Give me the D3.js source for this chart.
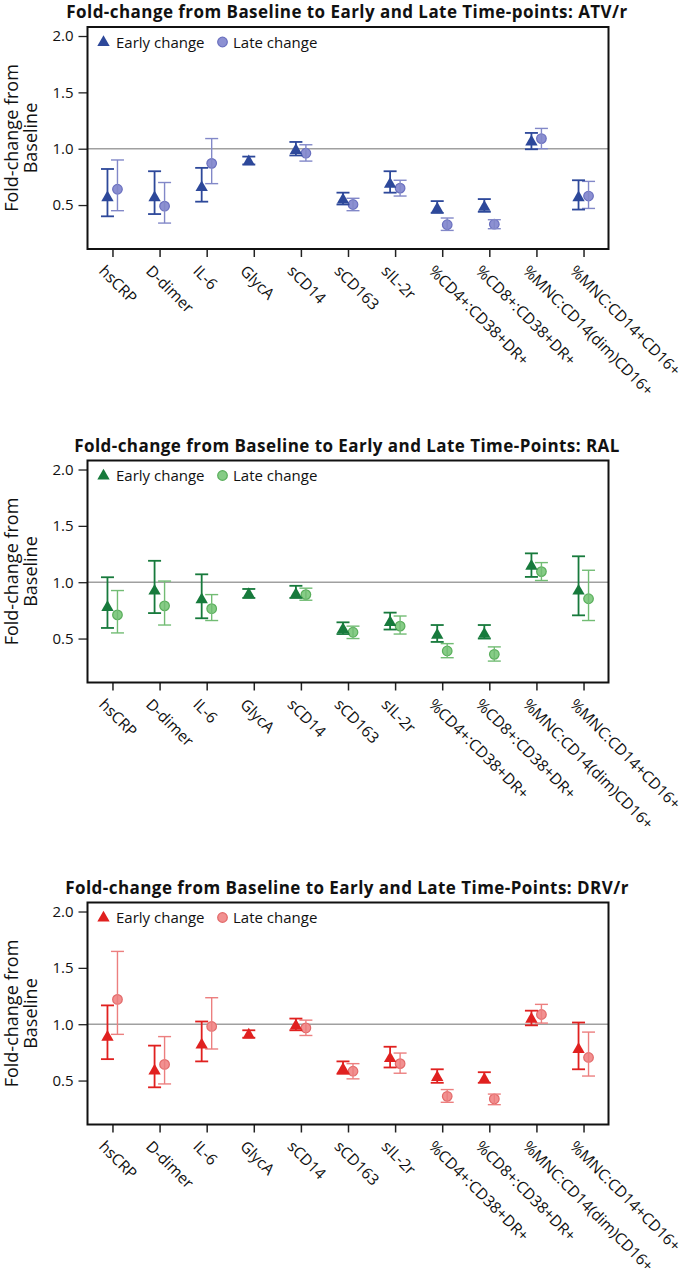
<!DOCTYPE html>
<html><head><meta charset="utf-8">
<script src="https://cdn.jsdelivr.net/npm/d3@7"></script>
<style>body{margin:0;background:#fff}svg{display:block}</style>
</head><body>
<svg id="chart" width="691" height="1280"></svg>
<script>
// ---- data ----
const categories = ["hsCRP","D-dimer","IL-6","GlycA","sCD14","sCD163","sIL-2r",
  "%CD4+:CD38+DR+","%CD8+:CD38+DR+","%MNC:CD14(dim)CD16+","%MNC:CD14+CD16+"];
const yTicks = [0.5, 1.0, 1.5, 2.0];
const titles = [
  "Fold-change from Baseline to Early and Late Time-points: ATV/r",
  "Fold-change from Baseline to Early and Late Time-Points: RAL",
  "Fold-change from Baseline to Early and Late Time-Points: DRV/r"];
const seriesNames = ["Early change", "Late change"];
// [estimate, lower, upper]
const atvEarly = [[0.57,0.40,0.82],[0.57,0.42,0.80],[0.66,0.53,0.83],[0.89,0.86,0.93],[0.99,0.94,1.06],
  [0.55,0.505,0.61],[0.69,0.61,0.80],[0.47,0.43,0.535],[0.485,0.44,0.553],[1.065,0.995,1.14],[0.57,0.46,0.72]];
const atvLate = [[0.64,0.45,0.90],[0.49,0.34,0.70],[0.87,0.69,1.09],null,[0.96,0.89,1.035],
  [0.505,0.45,0.56],[0.65,0.58,0.72],[0.325,0.275,0.385],[0.33,0.29,0.37],[1.09,1.0,1.18],[0.58,0.47,0.71]];
const ralEarly = [[0.78,0.594,1.044],[0.926,0.726,1.19],[0.85,0.68,1.07],[0.897,0.86,0.94],[0.897,0.86,0.968],
  [0.585,0.54,0.644],[0.647,0.58,0.73],[0.535,0.47,0.62],[0.544,0.50,0.62],[1.147,1.047,1.256],[0.926,0.706,1.23]];
const ralLate = [[0.71,0.55,0.926],[0.79,0.62,1.01],[0.765,0.66,0.89],null,[0.89,0.84,0.947],
  [0.556,0.50,0.61],[0.61,0.54,0.70],[0.39,0.33,0.455],[0.36,0.30,0.426],[1.094,1.015,1.174],[0.853,0.66,1.106]];
const drvEarly = [[0.89,0.69,1.167],[0.59,0.44,0.81],[0.82,0.67,1.024],[0.91,0.88,0.946],[0.99,0.946,1.05],
  [0.604,0.56,0.67],[0.70,0.616,0.80],[0.533,0.48,0.60],[0.515,0.48,0.574],[1.05,0.99,1.12],[0.78,0.60,1.015]];
const drvLate = [[1.22,0.91,1.646],[0.643,0.47,0.89],[0.98,0.78,1.235],null,[0.967,0.90,1.036],
  [0.583,0.515,0.65],[0.65,0.565,0.744],[0.36,0.307,0.42],[0.337,0.286,0.38],[1.086,1.01,1.176],[0.705,0.54,0.93]];

// ---- styles / layout ----
const palettes = [
  {early:"#2d489a", lateFill:"#8c90d2", lateStroke:"#6a70bf", lateBar:"#8288c8"},
  {early:"#177a3c", lateFill:"#86cc86", lateStroke:"#5aae5c", lateBar:"#72bc74"},
  {early:"#e0201f", lateFill:"#f29090", lateStroke:"#e26a6a", lateBar:"#ec7f7f"}];
const dataSets = [[atvEarly, atvLate],[ralEarly, ralLate],[drvEarly, drvLate]];
const tops = [27, 460.5, 902.5];
const left = 87.5, right = 608.5, plotH = 222;
const font = "'Open Sans', 'DejaVu Sans', sans-serif";

const svg = d3.select("#chart");
const x = d3.scalePoint().domain(categories).range([left, right]).padding(0.53);
const y = d3.scaleLinear().domain([0.11, 2.08]).range([plotH, 0]);
const tri = d3.symbol().type(d3.symbolTriangle).size(66);

dataSets.forEach((ds, pi) => {
  const pal = palettes[pi];
  const g = svg.append("g").attr("transform", `translate(0,${tops[pi]})`);

  // title
  g.append("text").attr("x", (left+right)/2 - 1).attr("y", -9)
    .attr("text-anchor","middle").attr("font-family", font).attr("font-weight","bold")
    .attr("font-size", 17).attr("letter-spacing", 0.45).attr("fill","#111").text(titles[pi]);

  // reference line
  g.append("line").attr("x1", left).attr("x2", right).attr("y1", y(1)).attr("y2", y(1))
    .attr("stroke","#a0a0a0").attr("stroke-width",1.5);

  // y axis
  const ya = g.append("g").attr("transform", `translate(${left},0)`)
    .call(d3.axisLeft(y).tickValues(yTicks).tickFormat(d3.format(".1f")).tickSize(9).tickPadding(5));
  ya.select(".domain").remove();
  ya.selectAll(".tick line").attr("stroke","#222").attr("stroke-width",1.3);
  ya.selectAll(".tick text").attr("font-family", font).attr("font-size", 15).attr("fill","#111");

  // x axis
  const xa = g.append("g").attr("transform", `translate(0,${plotH})`)
    .call(d3.axisBottom(x).tickSize(8).tickFormat(d => d));
  xa.select(".domain").remove();
  xa.selectAll(".tick line").attr("stroke","#222").attr("stroke-width",1.5);
  xa.selectAll(".tick text").attr("font-family", font).attr("font-size", 15.6).attr("fill","#111")
    .attr("text-anchor","start").attr("x",0).attr("y",0).attr("dy",0)
    .attr("transform","translate(-15,23) rotate(45)");

  // y-axis title
  const yl = g.append("text").attr("transform", `translate(0,${plotH/2}) rotate(-90)`)
    .attr("text-anchor","middle").attr("font-family", font).attr("font-size", 18).attr("fill","#111");
  yl.append("tspan").attr("x",0).attr("y",18).text("Fold-change from");
  yl.append("tspan").attr("x",0).attr("y",37).text("Baseline");

  const late = ds[1].map((d,i)=>d?{cat:categories[i],v:d[0],lo:d[1],hi:d[2]}:null).filter(Boolean);
  const early = ds[0].map((d,i)=>d?{cat:categories[i],v:d[0],lo:d[1],hi:d[2]}:null).filter(Boolean);

  // late series (circles + error bars)
  const lg = g.append("g");
  late.forEach(d => {
    const cx = x(d.cat) + 5;
    lg.append("circle").attr("cx",cx).attr("cy",y(d.v)).attr("r",4.8)
      .attr("fill",pal.lateFill).attr("stroke",pal.lateStroke).attr("stroke-width",1.2);
    lg.append("line").attr("x1",cx).attr("x2",cx).attr("y1",y(d.lo)).attr("y2",y(d.hi))
      .attr("stroke",pal.lateBar).attr("stroke-width",1.4);
    [d.lo,d.hi].forEach(v => lg.append("line").attr("x1",cx-6.5).attr("x2",cx+6.5)
      .attr("y1",y(v)).attr("y2",y(v)).attr("stroke",pal.lateBar).attr("stroke-width",1.4));
  });

  // early series (error bars + triangles)
  const eg = g.append("g");
  early.forEach(d => {
    const cx = x(d.cat) - 5;
    eg.append("line").attr("x1",cx).attr("x2",cx).attr("y1",y(d.lo)).attr("y2",y(d.hi))
      .attr("stroke",pal.early).attr("stroke-width",1.8);
    [d.lo,d.hi].forEach(v => eg.append("line").attr("x1",cx-6.5).attr("x2",cx+6.5)
      .attr("y1",y(v)).attr("y2",y(v)).attr("stroke",pal.early).attr("stroke-width",1.8));
    eg.append("path").attr("d",tri).attr("transform",`translate(${cx},${y(d.v)+0.5})`)
      .attr("fill",pal.early);
  });

  // legend
  const leg = g.append("g").attr("transform","translate(0,15)");
  leg.append("path").attr("d",tri).attr("transform",`translate(103.5,0.5)`).attr("fill",pal.early);
  leg.append("text").attr("x",116).attr("y",5.5).attr("font-family",font).attr("font-size",15)
    .attr("fill","#111").text(seriesNames[0]);
  leg.append("circle").attr("cx",222.5).attr("cy",0).attr("r",4.8)
    .attr("fill",pal.lateFill).attr("stroke",pal.lateStroke).attr("stroke-width",1.2);
  leg.append("text").attr("x",233).attr("y",5.5).attr("font-family",font).attr("font-size",15)
    .attr("fill","#111").text(seriesNames[1]);

  // frame
  g.append("rect").attr("x",left).attr("y",0).attr("width",right-left).attr("height",plotH)
    .attr("fill","none").attr("stroke","#111").attr("stroke-width",2);
});
</script>
</body></html>
